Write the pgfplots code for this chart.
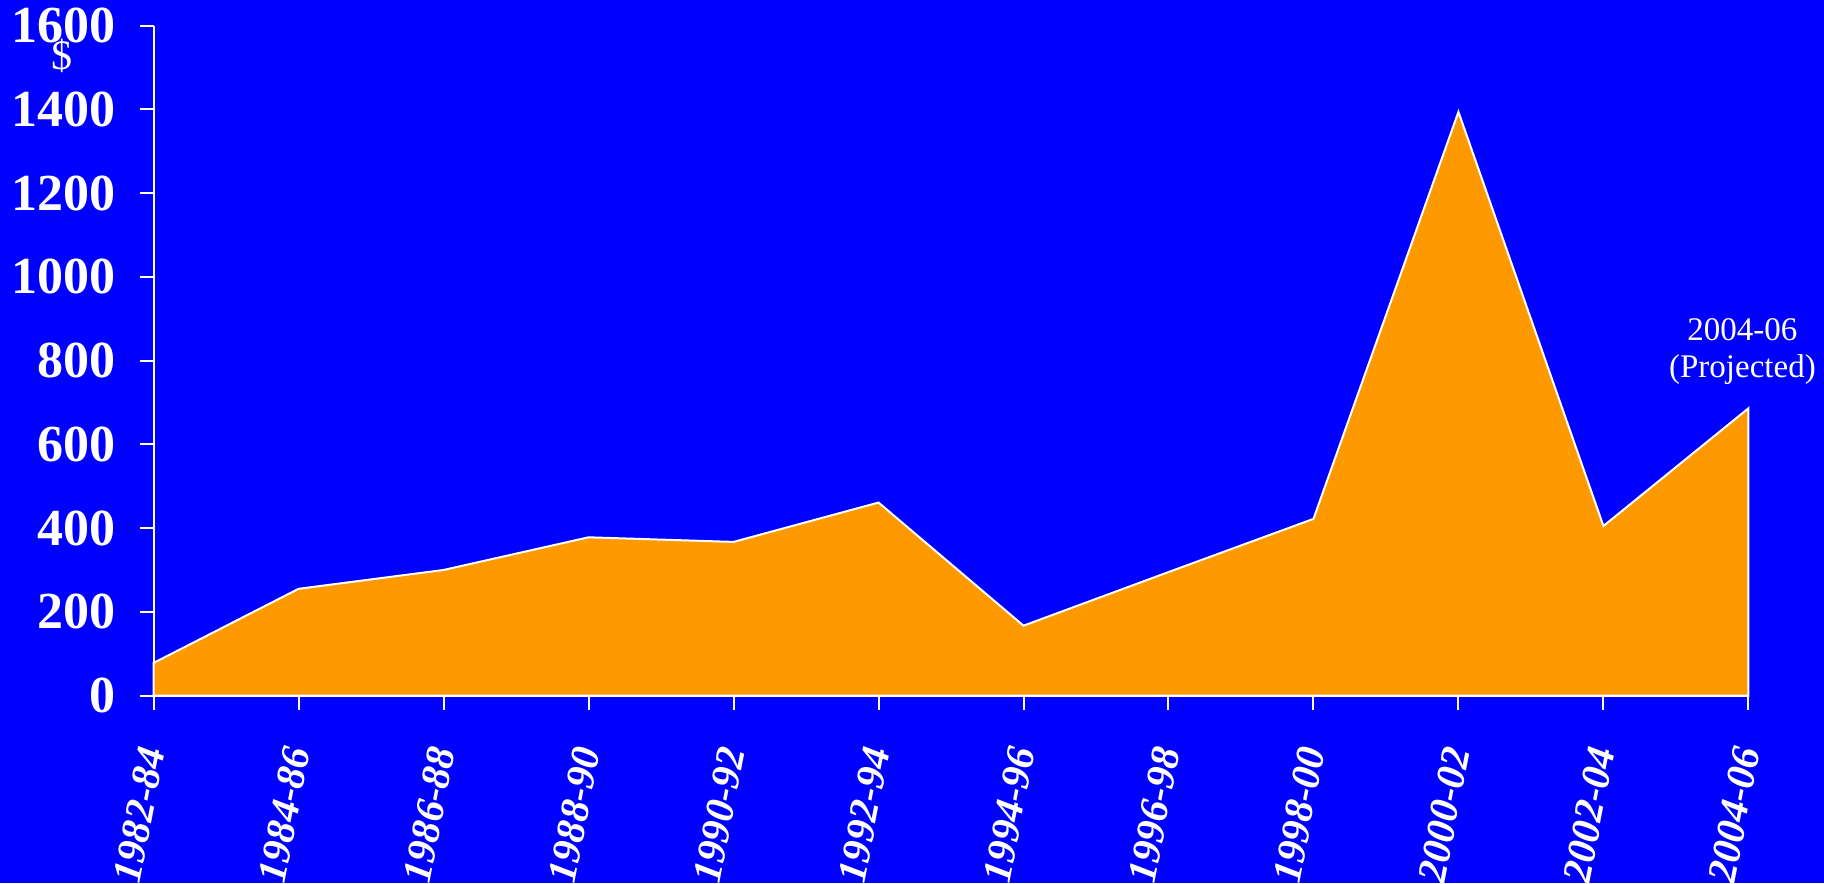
\documentclass[border=0pt]{standalone}
\usepackage{fontspec}
\setmainfont{Liberation Serif}
\usepackage{pgfplots}
\pgfplotsset{compat=1.18}
\definecolor{bg}{RGB}{0,0,255}
\definecolor{area}{RGB}{255,153,0}
\begin{document}
\begin{tikzpicture}
\path[use as bounding box, fill=bg] (-76.8pt,-93.7pt) rectangle (835.2pt,347.8pt);
\begin{axis}[
  at={(0,0)}, anchor=south west,
  scale only axis, width=797.4pt, height=335pt,
  xmin=0, xmax=11, ymin=0, ymax=1600,
  axis lines*=left,
  axis line style={white, line width=1pt, -},
  xtick={0,...,11},
  xticklabels={1982-84,1984-86,1986-88,1988-90,1990-92,1992-94,1994-96,1996-98,1998-00,2000-02,2002-04,2004-06},
  ytick={0,200,...,1600},
  tick align=outside,
  major tick length=7pt,
  tick style={white, line width=1pt},
  /pgf/number format/assume math mode=true,
  /pgf/number format/1000 sep={},
  yticklabel style={font=\bfseries\fontsize{26}{26}\selectfont, text=white, xshift=-8.5pt},
  xticklabel style={font=\bfseries\itshape\fontsize{20.5}{20.5}\selectfont, text=white, yshift=-15.5pt, rotate=79, anchor=east},
  clip=false,
]
\addplot[fill=area, draw=white, line width=1pt] coordinates {
  (0,78) (1,255) (2,300) (3,378) (4,367) (5,461) (6,167) (7,295) (8,422) (9,1394) (10,405) (11,686)
} \closedcycle;
\node[text=white, font=\fontsize{16.5}{18.5}\selectfont, align=center, xshift=-3pt] at (axis cs:11,822) {2004-06\\(Projected)};
\node[text=white, font=\fontsize{21}{21}\selectfont, xshift=-45.8pt] at (axis cs:0,1527) {\$};
\end{axis}
\end{tikzpicture}
\end{document}
